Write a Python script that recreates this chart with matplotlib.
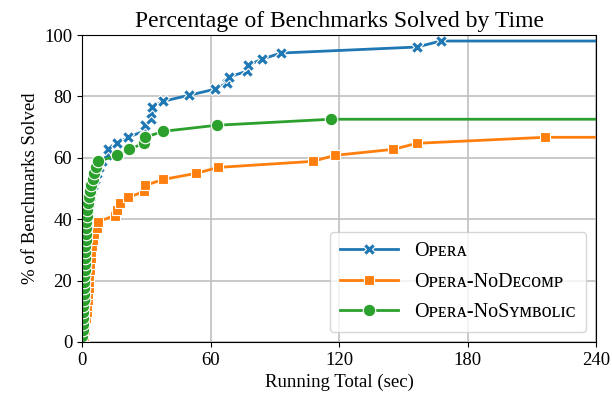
import numpy as np
import matplotlib
matplotlib.use("Agg")
import matplotlib.pyplot as plt

plt.rcParams['font.family'] = ['Liberation Serif', 'DejaVu Serif']

N_BENCH = 51

# sorted solve times (sec) of each benchmark
opera_times = [0.2, 0.3, 0.4, 0.5, 0.6, 0.7, 0.8, 0.9, 1.0, 1.1,
               1.2, 1.3, 1.4, 1.5, 1.6, 1.7, 1.8, 1.9, 2.1, 2.3,
               2.5, 2.8, 3.2, 3.7, 4.3, 5.0, 6.0, 7.0, 8.0, 9.5,
               11.5, 12.3, 16.5, 21.4, 28.8, 29.5, 32.2, 32.4, 32.6, 38.0,
               50.1, 62.1, 67.6, 68.5, 77.0, 77.5, 84.2, 92.8, 156.3, 167.5]
nodecomp_times = [1.0, 1.3, 1.6, 1.9, 2.3, 2.5, 2.6, 2.8, 3.1, 3.3,
                  3.4, 3.6, 3.9, 4.1, 4.4, 4.7, 5.1, 5.6, 6.9, 7.6,
                  15.4, 16.2, 17.7, 21.6, 29.0, 29.4, 38.0, 53.1, 63.7, 107.7,
                  118.1, 145.4, 156.3, 216.2]
nosymbolic_times = [0.2, 0.3, 0.4, 0.5, 0.5, 0.6, 0.7, 0.8, 0.9, 1.0,
                    1.1, 1.2, 1.3, 1.4, 1.5, 1.6, 1.7, 1.8, 1.9, 2.0,
                    2.2, 2.5, 2.8, 3.3, 3.8, 4.4, 5.0, 5.7, 6.6, 7.6,
                    16.5, 21.9, 28.9, 29.4, 38.0, 62.9, 116.1]

labels = ["O\u1d18\u1d07\u0280\u1d00",
          "O\u1d18\u1d07\u0280\u1d00-N\u1d0fD\u1d07\u1d04\u1d0f\u1d0d\u1d18",
          "O\u1d18\u1d07\u0280\u1d00-N\u1d0fS\u028f\u1d0d\u0299\u1d0f\u029f\u026a\u1d04"]
colors = ["#1f77b4", "#ff7f0e", "#2ca02c"]
markers = ["X", "s", "o"]
msizes = [8.5, 7, 9]

X_MAX = 240

fig, ax = plt.subplots(figsize=(6.12, 4.07), dpi=100)
fig.subplots_adjust(left=0.134, right=0.974, top=0.914, bottom=0.160)

for times, lab, c, m, ms in zip([opera_times, nodecomp_times, nosymbolic_times],
                                labels, colors, markers, msizes):
    t = np.array(times)
    pct = np.arange(1, len(t) + 1) / N_BENCH * 100
    # extend flat line to the right edge
    x = np.append(t, X_MAX)
    y = np.append(pct, pct[-1])
    ax.plot(x, y, color=c, lw=2, marker=m, markersize=ms,
            markeredgecolor="white", markeredgewidth=0.8,
            markevery=slice(0, len(t)), label=lab)

ax.set_xlim(0, X_MAX)
ax.set_ylim(0, 100)
ax.set_xticks([0, 60, 120, 180, 240])
ax.set_yticks(range(0, 101, 20))
ax.grid(True, color="#c0c0c0", lw=1.2)
ax.set_axisbelow(True)
ax.tick_params(labelsize=13.5)

ax.set_title("Percentage of Benchmarks Solved by Time", fontsize=17)
ax.set_xlabel("Running Total (sec)", fontsize=13.5)
ax.set_ylabel("% of Benchmarks Solved", fontsize=13.5)
ax.legend(loc="lower right", fontsize=14.5, borderpad=0.5, labelspacing=0.55,
          handlelength=2.9)

fig.savefig("out.png", dpi=100)
